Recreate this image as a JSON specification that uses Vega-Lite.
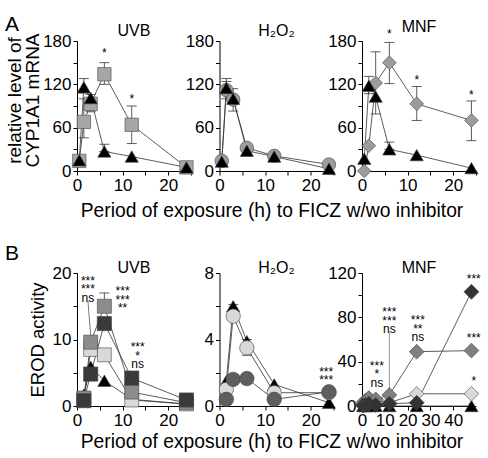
{
"$schema":"https://vega.github.io/schema/vega-lite/v6.json",
"padding":{"left":5,"top":13,"right":0,"bottom":0},
"config":{"font":"Liberation Sans","view":{"stroke":null},
"axis":{"grid":false,"domainColor":"#000","tickColor":"#000","tickSize":4,"labelColor":"#000","labelFontSize":17,"labelFont":"Liberation Sans","titleFont":"Liberation Sans","titleFontSize":17,"titleFontWeight":"normal","titleColor":"#000","labelPadding":2},
"text":{"color":"#000"},
"title":{"font":"Liberation Sans","fontSize":16,"fontWeight":"normal","color":"#000","frame":"group"}},
"datasets":{
"a1":[{"t":0.5,"v":14,"s":"sqA"},{"t":1.5,"v":68,"s":"sqA"},{"t":3,"v":93,"s":"sqA"},{"t":6,"v":134,"s":"sqA"},{"t":12,"v":64,"s":"sqA"},{"t":24,"v":5,"s":"sqA"},{"t":0.5,"v":15,"s":"tri"},{"t":1.5,"v":116,"s":"tri"},{"t":3,"v":101,"s":"tri"},{"t":6,"v":27,"s":"tri"},{"t":12,"v":20,"s":"tri"},{"t":24,"v":5,"s":"tri"}],
"a1e":[{"t":1.5,"v":46,"v2":100},{"t":1.5,"v":108,"v2":128},{"t":3,"v":82,"v2":106},{"t":6,"v":120,"v2":150},{"t":12,"v":38,"v2":90},{"t":6,"v":27,"v2":37}],
"a1t":[{"t":6,"v":170,"label":"*"},{"t":12,"v":107,"label":"*"}],
"a2":[{"t":0.5,"v":14,"s":"circA"},{"t":1.5,"v":112,"s":"circA"},{"t":3,"v":99,"s":"circA"},{"t":6,"v":32,"s":"circA"},{"t":12,"v":21,"s":"circA"},{"t":24,"v":9,"s":"circA"},{"t":0.5,"v":13,"s":"tri"},{"t":1.5,"v":115,"s":"tri"},{"t":3,"v":100,"s":"tri"},{"t":6,"v":28,"s":"tri"},{"t":12,"v":20,"s":"tri"},{"t":24,"v":3,"s":"tri"}],
"a2e":[{"t":1.5,"v":100,"v2":128},{"t":1.5,"v":107,"v2":124},{"t":3,"v":83,"v2":114},{"t":6,"v":27,"v2":37}],
"a3":[{"t":0.5,"v":0,"s":"diaA"},{"t":1.5,"v":35,"s":"diaA"},{"t":3,"v":122,"s":"diaA"},{"t":6,"v":150,"s":"diaA"},{"t":12,"v":93,"s":"diaA"},{"t":24,"v":70,"s":"diaA"},{"t":0.5,"v":17,"s":"tri"},{"t":1.5,"v":118,"s":"tri"},{"t":3,"v":103,"s":"tri"},{"t":6,"v":30,"s":"tri"},{"t":12,"v":22,"s":"tri"},{"t":24,"v":4,"s":"tri"}],
"a3e":[{"t":3,"v":122,"v2":165},{"t":6,"v":121,"v2":178},{"t":12,"v":70,"v2":117},{"t":24,"v":42,"v2":97},{"t":1.5,"v":107,"v2":131},{"t":3,"v":79,"v2":120},{"t":6,"v":30,"v2":40}],
"a3t":[{"t":6,"v":196,"label":"*"},{"t":12,"v":133,"label":"*"},{"t":24,"v":112,"label":"*"}],
"b1":[{"t":1.5,"v":1.7,"s":"tri"},{"t":3,"v":5.9,"s":"tri"},{"t":6,"v":3.8,"s":"tri"},{"t":12,"v":1.0,"s":"tri"},{"t":24,"v":0.3,"s":"tri"},{"t":1.5,"v":1.0,"s":"sqL"},{"t":3,"v":8.5,"s":"sqL"},{"t":6,"v":7.7,"s":"sqL"},{"t":12,"v":0.9,"s":"sqL"},{"t":24,"v":0.3,"s":"sqL"},{"t":1.5,"v":1.2,"s":"sqM"},{"t":3,"v":9.6,"s":"sqM"},{"t":6,"v":15,"s":"sqM"},{"t":12,"v":2.1,"s":"sqM"},{"t":24,"v":0.5,"s":"sqM"},{"t":1.5,"v":0.8,"s":"sqD"},{"t":3,"v":4.8,"s":"sqD"},{"t":6,"v":12.4,"s":"sqD"},{"t":12,"v":4.2,"s":"sqD"},{"t":24,"v":0.9,"s":"sqD"}],
"b1e":[{"t":6,"v":15,"v2":17}],
"b1t":[{"t":2.4,"v":19.6,"label":"***\n***\nns"},{"t":10,"v":18.0,"label":"***\n***\n**"},{"t":13.3,"v":9.6,"label":"***\n*\nns"}],
"b1c":[{"t":2.4,"v":15.8,"t2":3,"v2":10.6}],
"b2":[{"t":1.5,"v":1.5,"s":"tri"},{"t":3,"v":6.0,"s":"tri"},{"t":6,"v":3.9,"s":"tri"},{"t":12,"v":1.3,"s":"tri"},{"t":24,"v":0.2,"s":"tri"},{"t":1.5,"v":1.0,"s":"cL"},{"t":3,"v":5.4,"s":"cL"},{"t":6,"v":3.5,"s":"cL"},{"t":12,"v":0.8,"s":"cL"},{"t":24,"v":0.8,"s":"cL"},{"t":1.5,"v":0.4,"s":"cD"},{"t":3,"v":1.6,"s":"cD"},{"t":6,"v":1.65,"s":"cD"},{"t":12,"v":0.4,"s":"cD"},{"t":24,"v":0.85,"s":"cD"}],
"b2e":[{"t":3,"v":5.4,"v2":6.1},{"t":6,"v":3.05,"v2":4.0}],
"b2t":[{"t":23.4,"v":2.35,"label":"***\n***"}],
"b3":[{"t":0.5,"v":0,"s":"tri"},{"t":1.5,"v":0,"s":"tri"},{"t":3,"v":0,"s":"tri"},{"t":6,"v":0,"s":"tri"},{"t":12,"v":0,"s":"tri"},{"t":24,"v":0,"s":"tri"},{"t":48,"v":0,"s":"tri"},{"t":0.5,"v":3,"s":"dL"},{"t":1.5,"v":5,"s":"dL"},{"t":3,"v":7,"s":"dL"},{"t":6,"v":5,"s":"dL"},{"t":12,"v":3,"s":"dL"},{"t":24,"v":11,"s":"dL"},{"t":48,"v":11,"s":"dL"},{"t":0.5,"v":2,"s":"dM"},{"t":1.5,"v":4,"s":"dM"},{"t":3,"v":7,"s":"dM"},{"t":6,"v":6,"s":"dM"},{"t":12,"v":10,"s":"dM"},{"t":24,"v":49,"s":"dM"},{"t":48,"v":50,"s":"dM"},{"t":0.5,"v":0.5,"s":"dD"},{"t":1.5,"v":1,"s":"dD"},{"t":3,"v":2,"s":"dD"},{"t":6,"v":1,"s":"dD"},{"t":12,"v":2,"s":"dD"},{"t":24,"v":3,"s":"dD"},{"t":48,"v":103,"s":"dD"}],
"b3t":[{"t":6.5,"v":41,"label":"***\n*\nns"},{"t":12,"v":89,"label":"***\n***\nns"},{"t":24.5,"v":82,"label":"***\n**\nns"},{"t":49,"v":119,"label":"***"},{"t":49,"v":66,"label":"***"},{"t":49,"v":27,"label":"*"}],
"b3c":[{"t":12,"v":67,"t2":12,"v2":14}]
},
"spacing":232,
"bounds":"flush",
"vconcat":[
{"title":{"text":"A","anchor":"start","fontSize":21,"dx":-72,"offset":-15.5},
"hconcat":[
{"width":114,"height":130,"title":{"text":"UVB","offset":-7},
"encoding":{"x":{"field":"t","type":"quantitative","scale":{"domain":[0,25],"nice":false},"axis":{"values":[0,5,10,15,20,25],"labelExpr":"datum.value % 10 === 0 ? datum.label : ''","labelFlush":false,"title":null}},
"y":{"field":"v","type":"quantitative","scale":{"domain":[0,180],"nice":false},"axis":{"values":[0,30,60,90,120,150,180],"labelExpr":"datum.value % 60 === 0 ? datum.label : ''","title":["relative level of","CYP1A1 mRNA"],"titleFontSize":19,"titleLineHeight":18,"titleX":-53,"titleY":59}}},
"layer":[
{"data":{"name":"a1"},"mark":{"type":"line","color":"#333","strokeWidth":0.8},"encoding":{"detail":{"field":"s"}}},
{"data":{"name":"a1e"},"mark":{"type":"rule","color":"#333","strokeWidth":0.8},"encoding":{"y2":{"field":"v2"}}},
{"data":{"name":"a1e"},"transform":[{"fold":["v","v2"],"as":["k","v"]}],"mark":{"type":"point","shape":"M-1,0L1,0","size":100,"filled":false,"stroke":"#333","strokeWidth":0.8,"opacity":1}},
{"data":{"name":"a1"},"mark":{"type":"point","filled":true,"opacity":1,"stroke":"#444","strokeWidth":0.6},"encoding":{
"fill":{"field":"s","type":"nominal","scale":{"domain":["tri","sqA","circA","diaA","sqL","sqM","sqD","cL","cD","dL","dM","dD"],"range":["#000000","#a6a6a6","#9c9c9c","#9c9c9c","#d9d9d9","#8c8c8c","#3a3a3a","#d9d9d9","#5e5e5e","#d9d9d9","#808080","#333333"]},"legend":null},
"shape":{"field":"s","type":"nominal","scale":{"domain":["tri","sqA","circA","diaA","sqL","sqM","sqD","cL","cD","dL","dM","dD"],"range":["triangle-up","square","circle","diamond","square","square","square","circle","circle","diamond","diamond","diamond"]},"legend":null},
"size":{"field":"s","type":"ordinal","scale":{"domain":["tri","sqA","circA","diaA","sqL","sqM","sqD","cL","cD","dL","dM","dD"],"range":[175,225,150,260,240,240,240,170,170,220,220,220]},"legend":null}}},
{"data":{"name":"a1t"},"mark":{"type":"text","baseline":"top","fontSize":12,"color":"#000","lineBreak":"\n","lineHeight":8.5},"encoding":{"text":{"field":"label"}}}
]},
{"width":114,"height":130,"title":{"text":"H₂O₂","offset":-7},
"encoding":{"x":{"field":"t","type":"quantitative","scale":{"domain":[0,25],"nice":false},"axis":{"values":[0,5,10,15,20,25],"labelExpr":"datum.value % 10 === 0 ? datum.label : ''","labelFlush":false,"title":"Period of exposure (h) to FICZ w/wo inhibitor","titleX":52,"titleY":45,"titleAlign":"center","titleBaseline":"alphabetic","titleFontSize":19.3}},
"y":{"field":"v","type":"quantitative","scale":{"domain":[0,180],"nice":false},"axis":{"values":[0,30,60,90,120,150,180],"labelExpr":"datum.value % 60 === 0 ? datum.label : ''","title":null}}},
"layer":[
{"data":{"name":"a2"},"mark":{"type":"line","color":"#333","strokeWidth":0.8},"encoding":{"detail":{"field":"s"}}},
{"data":{"name":"a2e"},"mark":{"type":"rule","color":"#333","strokeWidth":0.8},"encoding":{"y2":{"field":"v2"}}},
{"data":{"name":"a2e"},"transform":[{"fold":["v","v2"],"as":["k","v"]}],"mark":{"type":"point","shape":"M-1,0L1,0","size":100,"filled":false,"stroke":"#333","strokeWidth":0.8,"opacity":1}},
{"data":{"name":"a2"},"mark":{"type":"point","filled":true,"opacity":1,"stroke":"#444","strokeWidth":0.6},"encoding":{
"fill":{"field":"s","type":"nominal","scale":{"domain":["tri","sqA","circA","diaA","sqL","sqM","sqD","cL","cD","dL","dM","dD"],"range":["#000000","#a6a6a6","#9c9c9c","#9c9c9c","#d9d9d9","#8c8c8c","#3a3a3a","#d9d9d9","#5e5e5e","#d9d9d9","#808080","#333333"]},"legend":null},
"shape":{"field":"s","type":"nominal","scale":{"domain":["tri","sqA","circA","diaA","sqL","sqM","sqD","cL","cD","dL","dM","dD"],"range":["triangle-up","square","circle","diamond","square","square","square","circle","circle","diamond","diamond","diamond"]},"legend":null},
"size":{"field":"s","type":"ordinal","scale":{"domain":["tri","sqA","circA","diaA","sqL","sqM","sqD","cL","cD","dL","dM","dD"],"range":[175,225,150,260,240,240,240,170,170,220,220,220]},"legend":null}}}
]},
{"width":114,"height":130,"title":{"text":"MNF","offset":-7},
"encoding":{"x":{"field":"t","type":"quantitative","scale":{"domain":[0,25],"nice":false},"axis":{"values":[0,5,10,15,20,25],"labelExpr":"datum.value % 10 === 0 ? datum.label : ''","labelFlush":false,"title":null}},
"y":{"field":"v","type":"quantitative","scale":{"domain":[0,180],"nice":false},"axis":{"values":[0,30,60,90,120,150,180],"labelExpr":"datum.value % 60 === 0 ? datum.label : ''","title":null}}},
"layer":[
{"data":{"name":"a3"},"mark":{"type":"line","color":"#333","strokeWidth":0.8},"encoding":{"detail":{"field":"s"}}},
{"data":{"name":"a3e"},"mark":{"type":"rule","color":"#333","strokeWidth":0.8},"encoding":{"y2":{"field":"v2"}}},
{"data":{"name":"a3e"},"transform":[{"fold":["v","v2"],"as":["k","v"]}],"mark":{"type":"point","shape":"M-1,0L1,0","size":100,"filled":false,"stroke":"#333","strokeWidth":0.8,"opacity":1}},
{"data":{"name":"a3"},"mark":{"type":"point","filled":true,"opacity":1,"stroke":"#444","strokeWidth":0.6},"encoding":{
"fill":{"field":"s","type":"nominal","scale":{"domain":["tri","sqA","circA","diaA","sqL","sqM","sqD","cL","cD","dL","dM","dD"],"range":["#000000","#a6a6a6","#9c9c9c","#9c9c9c","#d9d9d9","#8c8c8c","#3a3a3a","#d9d9d9","#5e5e5e","#d9d9d9","#808080","#333333"]},"legend":null},
"shape":{"field":"s","type":"nominal","scale":{"domain":["tri","sqA","circA","diaA","sqL","sqM","sqD","cL","cD","dL","dM","dD"],"range":["triangle-up","square","circle","diamond","square","square","square","circle","circle","diamond","diamond","diamond"]},"legend":null},
"size":{"field":"s","type":"ordinal","scale":{"domain":["tri","sqA","circA","diaA","sqL","sqM","sqD","cL","cD","dL","dM","dD"],"range":[175,225,150,260,240,240,240,170,170,220,220,220]},"legend":null}}},
{"data":{"name":"a3t"},"mark":{"type":"text","baseline":"top","fontSize":12,"color":"#000","lineBreak":"\n","lineHeight":8.5},"encoding":{"text":{"field":"label"}}}
]}
],"spacing":28.5,"bounds":"flush"},
{"title":{"text":"B","anchor":"start","fontSize":21,"dx":-72,"offset":-4},
"hconcat":[
{"width":114,"height":133,"title":{"text":"UVB","offset":-12},
"encoding":{"x":{"field":"t","type":"quantitative","scale":{"domain":[0,25],"nice":false},"axis":{"values":[0,5,10,15,20,25],"labelExpr":"datum.value % 10 === 0 ? datum.label : ''","labelFlush":false,"title":null}},
"y":{"field":"v","type":"quantitative","scale":{"domain":[0,20],"nice":false},"axis":{"values":[0,5,10,15,20],"labelExpr":"datum.value % 10 === 0 ? datum.label : ''","title":"EROD activity","titleFontSize":18.5,"titleX":-30}}},
"layer":[
{"data":{"name":"b1"},"mark":{"type":"line","color":"#333","strokeWidth":0.8},"encoding":{"detail":{"field":"s"}}},
{"data":{"name":"b1e"},"mark":{"type":"rule","color":"#333","strokeWidth":0.8},"encoding":{"y2":{"field":"v2"}}},
{"data":{"name":"b1e"},"transform":[{"fold":["v","v2"],"as":["k","v"]}],"mark":{"type":"point","shape":"M-1,0L1,0","size":100,"filled":false,"stroke":"#333","strokeWidth":0.8,"opacity":1}},
{"data":{"name":"b1c"},"mark":{"type":"rule","color":"#555","strokeWidth":0.8},"encoding":{"x2":{"field":"t2"},"y2":{"field":"v2"}}},
{"data":{"name":"b1"},"mark":{"type":"point","filled":true,"opacity":1,"stroke":"#444","strokeWidth":0.6},"encoding":{
"fill":{"field":"s","type":"nominal","scale":{"domain":["tri","sqA","circA","diaA","sqL","sqM","sqD","cL","cD","dL","dM","dD"],"range":["#000000","#a6a6a6","#9c9c9c","#9c9c9c","#d9d9d9","#8c8c8c","#3a3a3a","#d9d9d9","#5e5e5e","#d9d9d9","#808080","#333333"]},"legend":null},
"shape":{"field":"s","type":"nominal","scale":{"domain":["tri","sqA","circA","diaA","sqL","sqM","sqD","cL","cD","dL","dM","dD"],"range":["triangle-up","square","circle","diamond","square","square","square","circle","circle","diamond","diamond","diamond"]},"legend":null},
"size":{"field":"s","type":"ordinal","scale":{"domain":["tri","sqA","circA","diaA","sqL","sqM","sqD","cL","cD","dL","dM","dD"],"range":[175,225,150,260,240,240,240,170,170,220,220,220]},"legend":null}}},
{"data":{"name":"b1t"},"mark":{"type":"text","baseline":"top","fontSize":12,"color":"#000","lineBreak":"\n","lineHeight":8.5},"encoding":{"text":{"field":"label"}}}
]},
{"width":114,"height":133,"title":{"text":"H₂O₂","offset":-12},
"encoding":{"x":{"field":"t","type":"quantitative","scale":{"domain":[0,25],"nice":false},"axis":{"values":[0,5,10,15,20,25],"labelExpr":"datum.value % 10 === 0 ? datum.label : ''","labelFlush":false,"title":"Period of exposure (h) to FICZ w/wo inhibitor","titleX":52,"titleY":41,"titleAlign":"center","titleBaseline":"alphabetic","titleFontSize":19.3}},
"y":{"field":"v","type":"quantitative","scale":{"domain":[0,8],"nice":false},"axis":{"values":[0,2,4,6,8],"labelExpr":"datum.value % 4 === 0 ? datum.label : ''","title":null}}},
"layer":[
{"data":{"name":"b2"},"mark":{"type":"line","color":"#333","strokeWidth":0.8},"encoding":{"detail":{"field":"s"}}},
{"data":{"name":"b2e"},"mark":{"type":"rule","color":"#333","strokeWidth":0.8},"encoding":{"y2":{"field":"v2"}}},
{"data":{"name":"b2e"},"transform":[{"fold":["v","v2"],"as":["k","v"]}],"mark":{"type":"point","shape":"M-1,0L1,0","size":100,"filled":false,"stroke":"#333","strokeWidth":0.8,"opacity":1}},
{"data":{"name":"b2"},"mark":{"type":"point","filled":true,"opacity":1,"stroke":"#444","strokeWidth":0.6},"encoding":{
"fill":{"field":"s","type":"nominal","scale":{"domain":["tri","sqA","circA","diaA","sqL","sqM","sqD","cL","cD","dL","dM","dD"],"range":["#000000","#a6a6a6","#9c9c9c","#9c9c9c","#d9d9d9","#8c8c8c","#3a3a3a","#d9d9d9","#5e5e5e","#d9d9d9","#808080","#333333"]},"legend":null},
"shape":{"field":"s","type":"nominal","scale":{"domain":["tri","sqA","circA","diaA","sqL","sqM","sqD","cL","cD","dL","dM","dD"],"range":["triangle-up","square","circle","diamond","square","square","square","circle","circle","diamond","diamond","diamond"]},"legend":null},
"size":{"field":"s","type":"ordinal","scale":{"domain":["tri","sqA","circA","diaA","sqL","sqM","sqD","cL","cD","dL","dM","dD"],"range":[175,225,150,260,240,240,240,170,170,220,220,220]},"legend":null}}},
{"data":{"name":"b2t"},"mark":{"type":"text","baseline":"top","fontSize":12,"color":"#000","lineBreak":"\n","lineHeight":8.5},"encoding":{"text":{"field":"label"}}}
]},
{"width":114,"height":133,"title":{"text":"MNF","offset":-12},
"encoding":{"x":{"field":"t","type":"quantitative","scale":{"domain":[0,50],"nice":false},"axis":{"values":[0,10,20,30,40],"labelFlush":false,"title":null}},
"y":{"field":"v","type":"quantitative","scale":{"domain":[0,120],"nice":false},"axis":{"values":[0,20,40,60,80,100,120],"labelExpr":"datum.value % 40 === 0 ? datum.label : ''","title":null}}},
"layer":[
{"data":{"name":"b3"},"mark":{"type":"line","color":"#333","strokeWidth":0.8},"encoding":{"detail":{"field":"s"}}},
{"data":{"name":"b3c"},"mark":{"type":"rule","color":"#777","strokeWidth":0.8},"encoding":{"x2":{"field":"t2"},"y2":{"field":"v2"}}},
{"data":{"name":"b3"},"mark":{"type":"point","filled":true,"opacity":1,"stroke":"#444","strokeWidth":0.6},"encoding":{
"fill":{"field":"s","type":"nominal","scale":{"domain":["tri","sqA","circA","diaA","sqL","sqM","sqD","cL","cD","dL","dM","dD"],"range":["#000000","#a6a6a6","#9c9c9c","#9c9c9c","#d9d9d9","#8c8c8c","#3a3a3a","#d9d9d9","#5e5e5e","#d9d9d9","#808080","#333333"]},"legend":null},
"shape":{"field":"s","type":"nominal","scale":{"domain":["tri","sqA","circA","diaA","sqL","sqM","sqD","cL","cD","dL","dM","dD"],"range":["triangle-up","square","circle","diamond","square","square","square","circle","circle","diamond","diamond","diamond"]},"legend":null},
"size":{"field":"s","type":"ordinal","scale":{"domain":["tri","sqA","circA","diaA","sqL","sqM","sqD","cL","cD","dL","dM","dD"],"range":[175,225,150,260,240,240,240,170,170,220,220,220]},"legend":null}}},
{"data":{"name":"b3t"},"mark":{"type":"text","baseline":"top","fontSize":12,"color":"#000","lineBreak":"\n","lineHeight":8.5},"encoding":{"text":{"field":"label"}}}
]}
],"spacing":28.5,"bounds":"flush"}
]
}
